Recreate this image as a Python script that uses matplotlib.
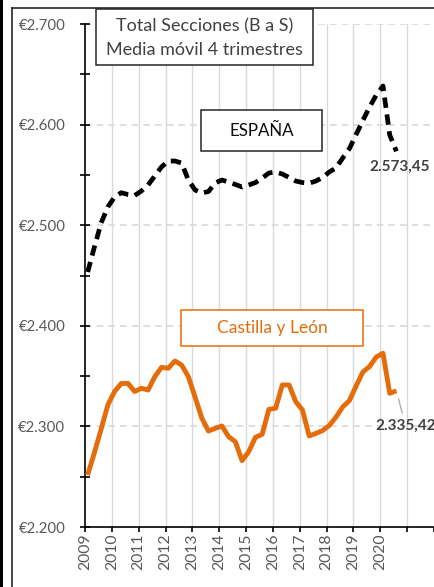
import matplotlib
matplotlib.use("Agg")
import matplotlib.pyplot as plt
from matplotlib.patches import Rectangle
from matplotlib.lines import Line2D
import numpy as np

plt.rcParams['font.family'] = ['Lato', 'DejaVu Sans']

# ---- data ----
start_year = 2009
n_quarters = 47  # 2009 T1 .. 2020 T3
quarters = [(start_year + i // 4, i % 4 + 1) for i in range(n_quarters)]

espana = [2453.5, 2478.3, 2502.2, 2518.1, 2528.0, 2532.3, 2530.5, 2529.5, 2534.0, 2540.0,
          2548.9, 2557.9, 2563.8, 2563.8, 2561.8, 2544.9, 2535.0, 2532.0, 2533.5, 2542.0,
          2544.9, 2542.9, 2540.5, 2538.0, 2540.0, 2542.4, 2546.9, 2551.9, 2552.9, 2550.9,
          2547.4, 2543.9, 2542.4, 2541.7, 2543.9, 2547.4, 2552.9, 2556.9, 2566.8, 2576.2,
          2590.2, 2604.1, 2617.5, 2629.4, 2638.4, 2589.7, 2573.45]

castilla = [2251.7, 2273.9, 2297.1, 2321.3, 2334.6, 2342.6, 2342.8, 2334.7, 2337.9, 2336.2,
            2349.4, 2358.7, 2357.8, 2365.0, 2361.0, 2349.4, 2329.2, 2308.3, 2295.4, 2298.1,
            2300.4, 2289.8, 2284.8, 2265.9, 2274.9, 2289.2, 2292.1, 2317.0, 2318.0, 2341.2,
            2341.2, 2324.6, 2316.3, 2290.5, 2293.0, 2295.9, 2300.9, 2309.3, 2319.3, 2325.7,
            2340.2, 2354.1, 2359.5, 2369.0, 2372.7, 2332.9, 2335.42]

year_ticks = list(range(2009, 2023))
year_labels = [str(y) for y in range(2009, 2021)] + ['', '']
y_ticks = [2200, 2300, 2400, 2500, 2600, 2700]
y_labels = ['€2.200', '€2.300', '€2.400', '€2.500', '€2.600', '€2.700']

title_lines = ["Total Secciones (B a S)", "Media móvil 4 trimestres"]
label_es = "ESPAÑA"
label_cyl = "Castilla y León"
last_es = "2.573,45"
last_cyl = "2.335,42"

# ---- figure ----
W, H = 435, 587
fig = plt.figure(figsize=(W / 100, H / 100), dpi=100)
fig.patch.set_facecolor('white')

def fx(x):
    return x / W

def fy(y):
    return 1 - y / H

ax = fig.add_axes([fx(85), fy(527), fx(434) - fx(85), fy(24) - fy(527)])
ax.set_facecolor('none')

x = np.array([yq[0] + (yq[1] - 1) / 4 + 0.1 for yq in quarters])

orange = '#E46C0A'
ax.plot(x, castilla, color=orange, lw=3.5, solid_joinstyle='round', solid_capstyle='butt', zorder=3)
ax.plot(x, espana, color='black', lw=3.4, dashes=(2.2, 1.4), dash_capstyle='butt',
        dash_joinstyle='round', zorder=3)

ax.set_xlim(2009, 2022)
ax.set_ylim(2200, 2700)

ax.set_xticks(year_ticks)
ax.set_xticklabels(year_labels, rotation=90, fontsize=11.3, color='#595959')
ax.set_yticks(y_ticks)
ax.set_yticklabels(y_labels, fontsize=10.8, color='#595959')
ax.set_yticks([2250, 2350, 2450, 2550, 2650], minor=True)

ax.tick_params(axis='y', which='both', direction='inout', length=7.2, width=1.2,
               color='black', pad=10.5)
ax.tick_params(axis='x', which='major', direction='out', length=3.6, width=1.2,
               color='black', pad=1)

for yv in [2300, 2400, 2500, 2600, 2700]:
    ax.axhline(yv, color='#d9d9d9', lw=1.2, ls=(0, (4, 3)), zorder=1)
for xv in range(2010, 2022):
    ax.axvline(xv, color='#d9d9d9', lw=1.0, zorder=1)

for s in ['top', 'right']:
    ax.spines[s].set_visible(False)
for s in ['left', 'bottom']:
    ax.spines[s].set_color('black')
    ax.spines[s].set_linewidth(1.2)

# last-value labels
ax.annotate(last_es, xy=(x[-1], espana[-1]), xytext=(2.5, -11), textcoords='offset points',
            ha='center', va='center', fontsize=11, fontweight='bold', color='#404040',
            annotation_clip=False)
ax.annotate(last_cyl, xy=(x[-1], castilla[-1]), xytext=(6.5, -25), textcoords='offset points',
            ha='center', va='center', fontsize=11, fontweight='bold', color='#404040',
            annotation_clip=False,
            arrowprops=dict(arrowstyle='-', color='#a6a6a6', lw=0.9, shrinkA=2, shrinkB=6))

# boxes
def box(x0, y0, x1, y1, ec):
    r = Rectangle((fx(x0), fy(y1)), fx(x1) - fx(x0), fy(y0) - fy(y1), transform=fig.transFigure,
                  facecolor='white', edgecolor=ec, lw=1.1, zorder=5)
    fig.add_artist(r)

box(96, 9.5, 313, 65, '#262626')
fig.text(fx(204.5), fy(26), title_lines[0], ha='center', va='center',
         fontsize=13, color='#404040', zorder=6)
fig.text(fx(204.5), fy(50), title_lines[1], ha='center', va='center',
         fontsize=13, color='#404040', zorder=6)

box(201, 110, 322, 151, '#262626')
fig.text(fx(261.5), fy(131), label_es, ha='center', va='center', fontsize=12.2,
         color='#0d0d0d', zorder=6)

box(181, 309.5, 363, 346, orange)
fig.text(fx(272), fy(328), label_cyl, ha='center', va='center', fontsize=12.5,
         color=orange, zorder=6)

# outer frame
fig.add_artist(Rectangle((0, 0), fx(3), 1, transform=fig.transFigure, facecolor='black',
                         edgecolor='none'))
fig.add_artist(Line2D([fx(12), fx(12)], [0, fy(8)], transform=fig.transFigure, color='#262626', lw=1.2))
fig.add_artist(Line2D([fx(12), 1], [fy(8), fy(8)], transform=fig.transFigure, color='#262626', lw=1.2))

fig.savefig('out.png', dpi=100)
